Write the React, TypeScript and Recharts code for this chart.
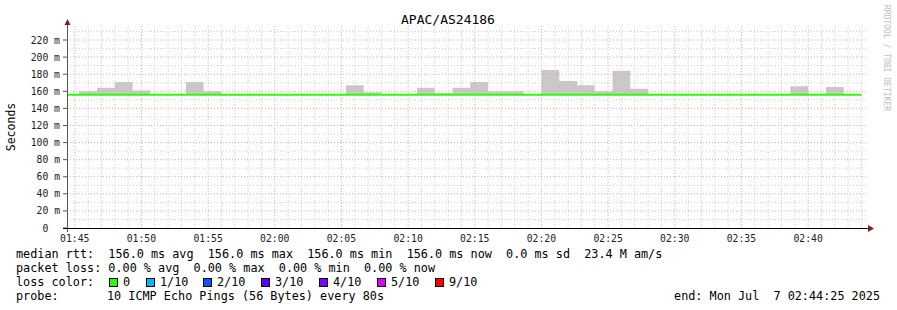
import React from "react";
import { ComposedChart, Area, Line, XAxis, YAxis, ReferenceLine } from "recharts";

// ─── Data ─────────────────────────────────────────────────────────────────────

const TITLE = "APAC/AS24186";
const RANGE_START = 6265; // 01:44:25, seconds of the day
const RANGE_END = 9865; // 02:44:25
const FIRST_STEP = 6320; // first 80s step boundary inside the window
const STEP = 80;

// highest ping of every 80s step (ms); 156 means no spread above the median
const smokeTop = [
  160, 164, 171, 161, 156, 156, 171, 160,
  156, 156, 156, 156, 156, 156, 156,
  167, 159, 156, 156, 164, 158, 164, 171, 160, 160, 156, 185, 172, 167, 160, 184, 163,
  156, 156, 156, 156, 156, 156, 156, 156,
  166, 157, 165, 156,
];

// median rtt of every 80s step (ms)
const medianRtt = [
  156, 156, 156, 156, 156, 156, 156, 156,
  156, 156, 156, 156, 156, 156, 156,
  156, 156, 156, 156, 156, 156, 156, 156, 156, 156, 156, 156, 156, 156, 156, 156, 156,
  156, 156, 156, 156, 156, 156, 156, 156,
  156, 156, 156, 156,
];

const xTickLabels = ["01:45", "01:50", "01:55", "02:00", "02:05", "02:10", "02:15", "02:20", "02:25", "02:30", "02:35", "02:40"];
const yTicks = [0, 20, 40, 60, 80, 100, 120, 140, 160, 180, 200, 220];
const yMinorGrid = [10, 30, 50, 70, 90, 110, 130, 150, 170, 190, 210, 230];

const legendRtt = "median rtt:  156.0 ms avg  156.0 ms max  156.0 ms min  156.0 ms now  0.0 ms sd  23.4 M am/s";
const legendLoss = "packet loss: 0.00 % avg  0.00 % max  0.00 % min  0.00 % now";
const legendProbe = "10 ICMP Echo Pings (56 Bytes) every 80s";
const legendEnd = "end: Mon Jul  7 02:44:25 2025";

const lossLabels = ["0", "1/10", "2/10", "3/10", "4/10", "5/10", "9/10"];
const lossColors = ["#26ff00", "#00b8ff", "#0059ff", "#5e00ff", "#7e00ff", "#dd00ff", "#ff0000"];

// ─── Helpers ──────────────────────────────────────────────────────────────────

const MONO = "'DejaVu Sans Mono', monospace";
const toSec = (hhmm: string) => {
  const [h, m] = hhmm.split(":").map(Number);
  return h * 3600 + m * 60;
};
const fmt = (s: number) => {
  const h = Math.floor(s / 3600);
  const m = Math.floor((s % 3600) / 60);
  return `${String(h).padStart(2, "0")}:${String(m).padStart(2, "0")}`;
};

const xTicks = xTickLabels.map(toSec);
const minuteGrid: number[] = [];
for (let s = xTicks[0]; s <= RANGE_END; s += 60) minuteGrid.push(s);

const data = [
  { t: RANGE_START, smoke: [medianRtt[0], medianRtt[0]], med: medianRtt[0] },
  ...smokeTop.map((top, k) => ({
    t: FIRST_STEP + k * STEP,
    smoke: [medianRtt[k], top],
    med: medianRtt[k],
  })),
  {
    t: FIRST_STEP + smokeTop.length * STEP,
    smoke: [medianRtt[medianRtt.length - 1], medianRtt[medianRtt.length - 1]],
    med: medianRtt[medianRtt.length - 1],
  },
];

const MAJOR_GRID = "#f2a4a4";
const MINOR_GRID = "#cdcdcd";

function YTick({ x, y, payload }: any) {
  const v = payload.value;
  return (
    <text x={x} y={y} dy="0.36em" textAnchor="end" fontFamily={MONO} fontSize={9.75} fill="#222">
      {v === 0 ? "0\u00a0\u00a0" : `${v} m`}
    </text>
  );
}

// ─── Component ────────────────────────────────────────────────────────────────

export default function App() {
  const squareX = [109, 146, 203, 261, 319, 377, 435];
  return (
    <div style={{ position: "absolute", left: 0, top: 0, width: 897, height: 310, background: "#fff" }}>
      <ComposedChart
        width={897}
        height={245}
        data={data}
        margin={{ top: 26, right: 30, left: 10, bottom: 3 }}
      >
        <XAxis
          dataKey="t"
          type="number"
          domain={[RANGE_START, RANGE_END]}
          allowDataOverflow
          ticks={xTicks}
          interval={0}
          tickFormatter={fmt}
          axisLine={false}
          tickLine={false}
          tickSize={5}
          tickMargin={2}
          height={14}
          tick={{ fontFamily: MONO, fontSize: 9.75, fill: "#222" }}
        />
        <YAxis
          type="number"
          domain={[0, 236.4]}
          allowDataOverflow
          ticks={yTicks}
          interval={0}
          width={57}
          axisLine={false}
          tickLine={{ stroke: "#555" }}
          tickSize={4}
          tickMargin={3}
          tick={<YTick />}
        />
        <Area
          dataKey="smoke"
          type="stepAfter"
          stroke="none"
          fill="#c8c8c8"
          fillOpacity={1}
          isAnimationActive={false}
          dot={false}
          activeDot={false}
        />
        {yMinorGrid.map((v) => (
          <ReferenceLine key={`hy${v}`} y={v} stroke={MINOR_GRID} strokeDasharray="1 2" />
        ))}
        {minuteGrid
          .filter((s) => (s - xTicks[0]) % 300 !== 0)
          .map((s) => (
            <ReferenceLine key={`vx${s}`} x={s} stroke={MINOR_GRID} strokeDasharray="1 2" />
          ))}
        {yTicks
          .filter((v) => v > 0)
          .map((v) => (
            <ReferenceLine key={`my${v}`} y={v} stroke={MAJOR_GRID} strokeDasharray="1 2" />
          ))}
        {xTicks.map((s) => (
          <ReferenceLine key={`mx${s}`} x={s} stroke={MAJOR_GRID} strokeDasharray="1 2" />
        ))}
        <Line
          dataKey="med"
          type="stepAfter"
          stroke="#26ff00"
          strokeWidth={2}
          dot={false}
          activeDot={false}
          isAnimationActive={false}
        />
      </ComposedChart>

      <svg
        width={897}
        height={310}
        style={{ position: "absolute", left: 0, top: 0, pointerEvents: "none" }}
        fontFamily={MONO}
      >
        <text x={448} y={24} textAnchor="middle" fontSize={13} fill="#000">
          {TITLE}
        </text>
        <text transform="translate(15,127) rotate(-90)" textAnchor="middle" fontSize={11.5} fill="#000">
          Seconds
        </text>
        <text transform="translate(884,5) rotate(90)" fontSize={8} fill="#bdbdbd">
          RRDTOOL / TOBI OETIKER
        </text>

        {/* axes with arrows */}
        <line x1={67.5} y1={22} x2={67.5} y2={232} stroke="#555" />
        <line x1={63} y1={228.5} x2={869} y2={228.5} stroke="#000" />
        <polygon points="64.5,25 70.5,25 67.5,19" fill="#8a1c1c" />
        <polygon points="868,225 868,232 874,228.5" fill="#8a1c1c" />

        {/* legend */}
        <g fontSize={11.8} fill="#000" style={{ whiteSpace: "pre" }}>
          <text x={16} y={258} xmlSpace="preserve">{legendRtt}</text>
          <text x={16} y={272} xmlSpace="preserve">{legendLoss}</text>
          <text x={16} y={286}>loss color:</text>
          {lossLabels.map((l, i) => (
            <g key={l}>
              <rect x={squareX[i] + 0.5} y={278.5} width={8} height={8} fill={lossColors[i]} stroke="#000" />
              <text x={squareX[i] + 14} y={286}>{l}</text>
            </g>
          ))}
          <text x={16} y={300}>probe:</text>
          <text x={107} y={300}>{legendProbe}</text>
          <text x={880} y={300} textAnchor="end" xmlSpace="preserve">{legendEnd}</text>
        </g>
      </svg>
    </div>
  );
}
